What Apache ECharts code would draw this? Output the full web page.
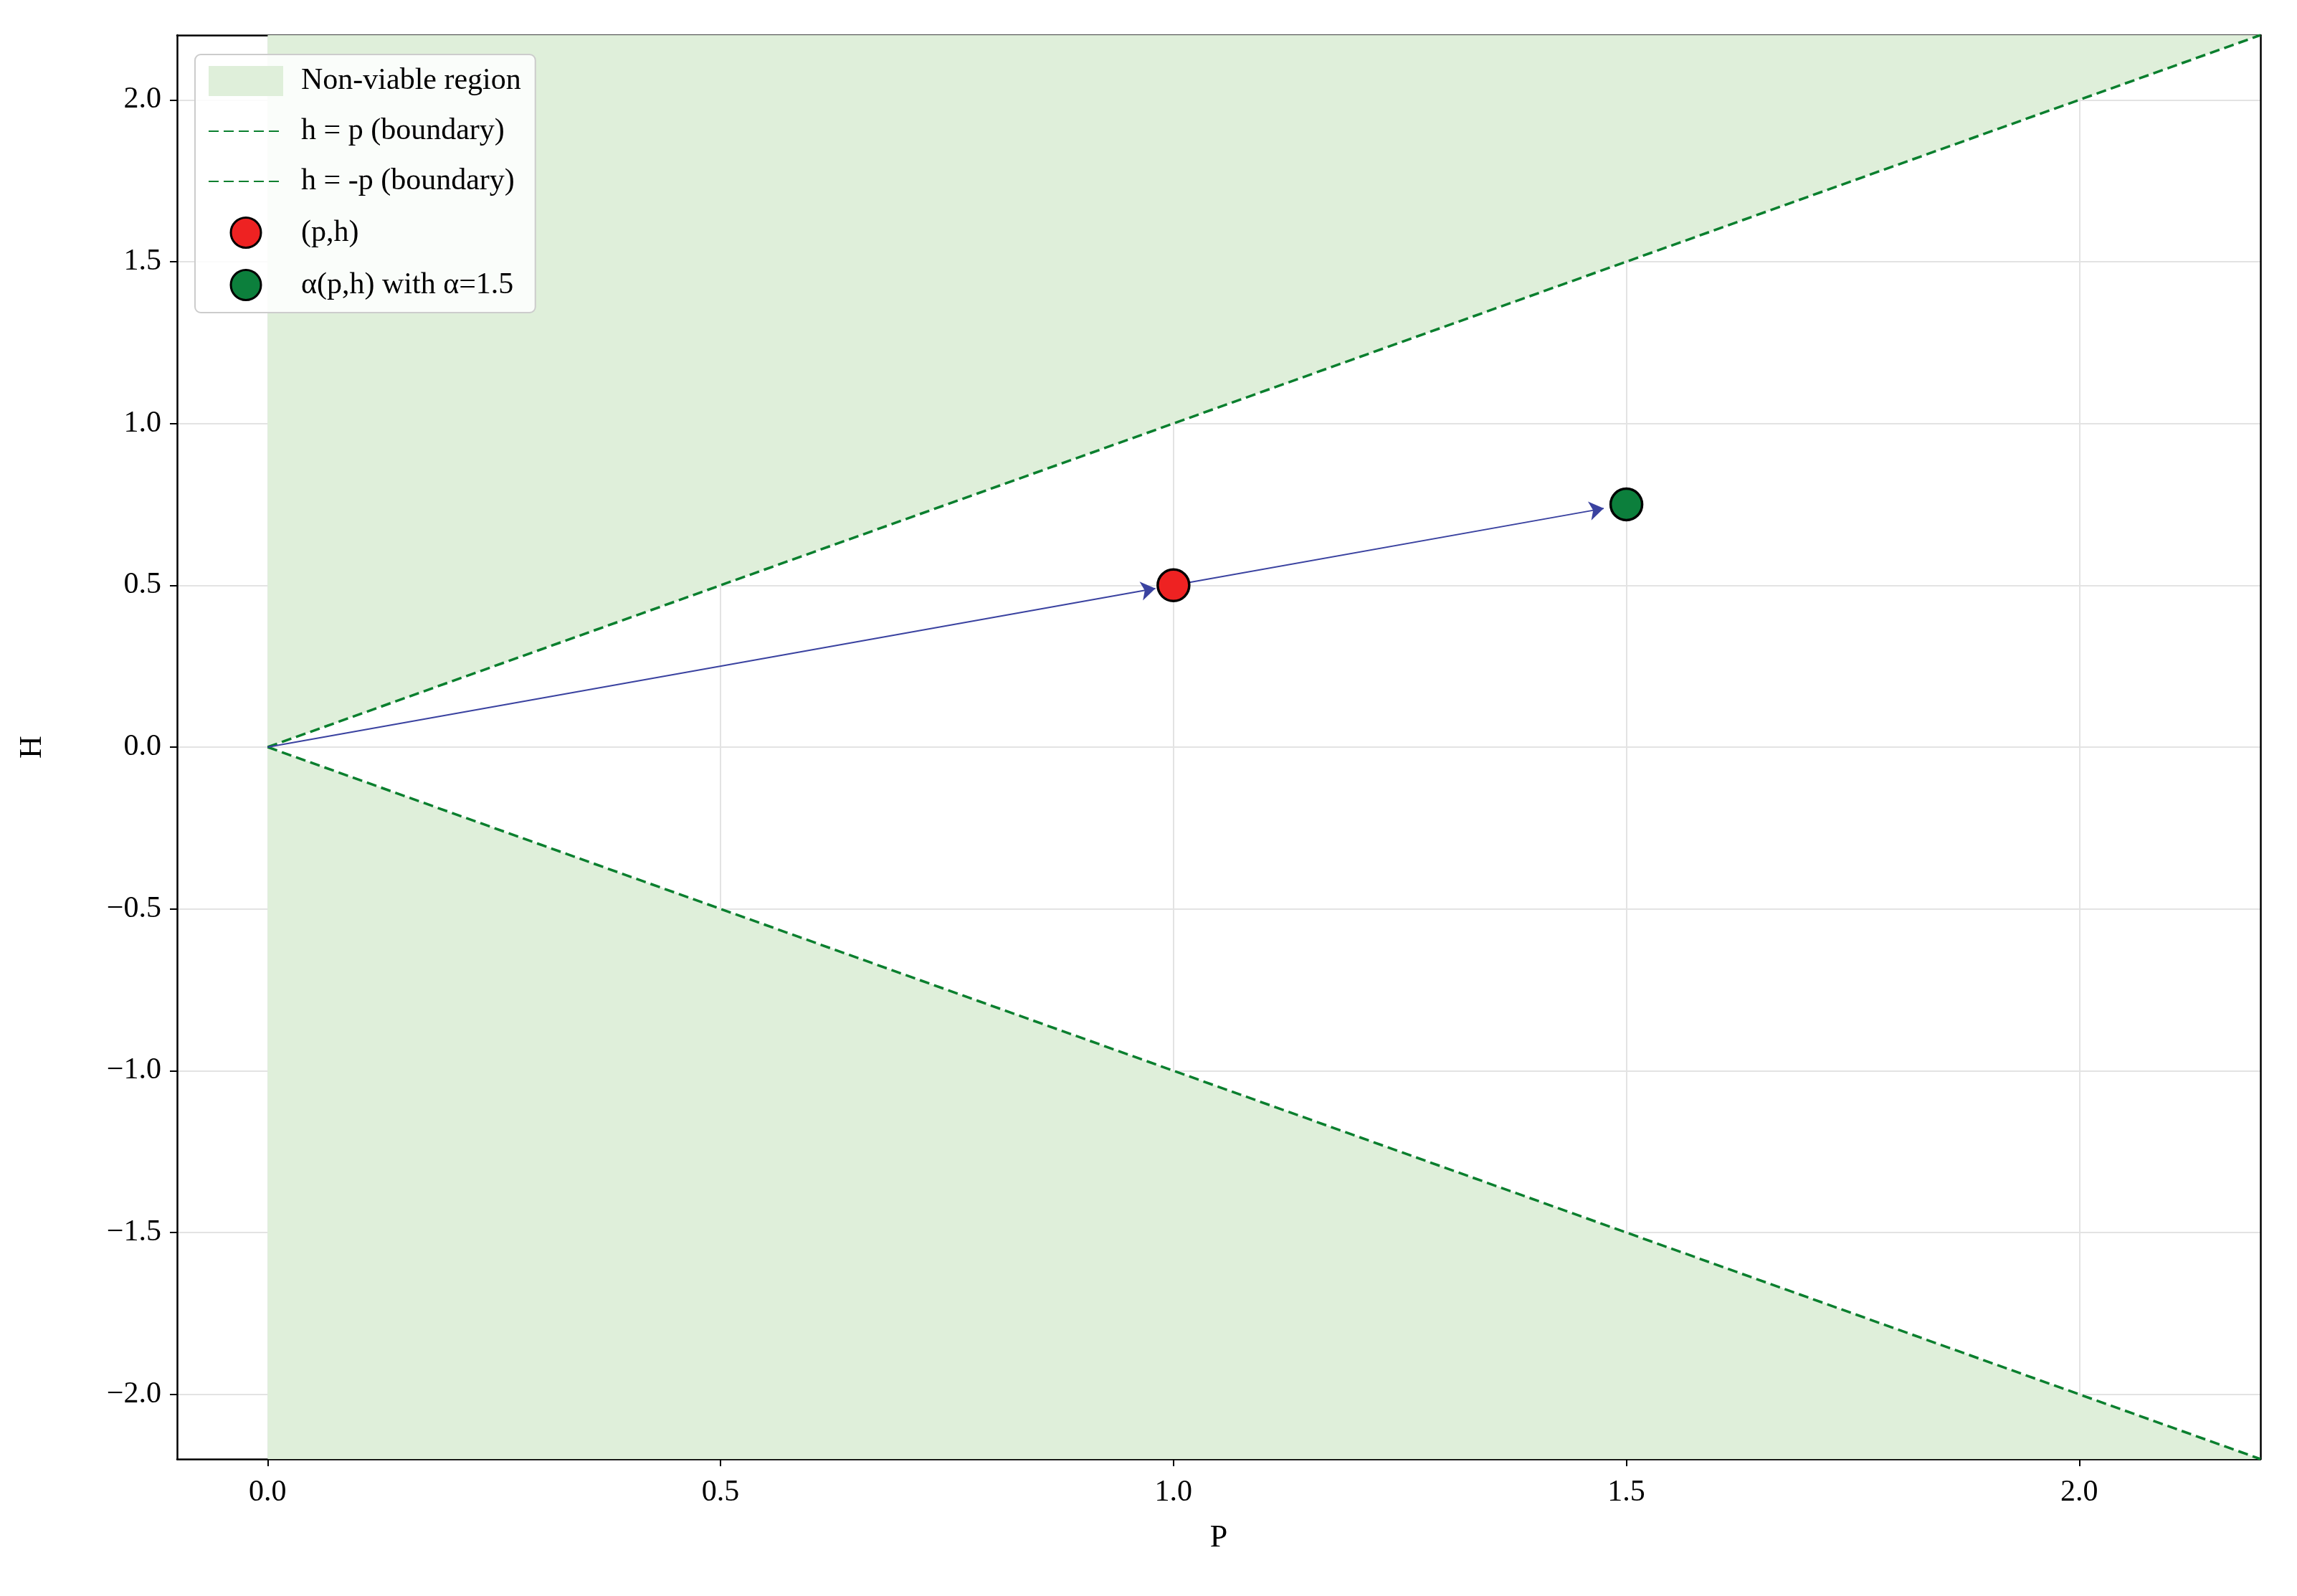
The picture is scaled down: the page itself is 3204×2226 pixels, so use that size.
<!DOCTYPE html>
<html>
<head>
<meta charset="utf-8">
<script src="https://cdn.jsdelivr.net/npm/echarts@6/dist/echarts.min.js"></script>
<style>html,body{margin:0;background:#fff}#chart{width:3204px;height:2226px}</style>
</head>
<body>
<div id="chart"></div>
<script>
// data
const boundaryUpper = [[0, 0], [2.2, 2.2]];
const boundaryLower = [[0, 0], [2.2, -2.2]];
const regionUpper = [[0, 0], [0, 2.2], [2.2, 2.2]];
const regionLower = [[0, 0], [0, -2.2], [2.2, -2.2]];
const pointPH = [[1.0, 0.5]];
const pointScaled = [[1.5, 0.75]];
const arrows = [
    [[0, 0], [0.98, 0.49]],
    [[1.0, 0.5], [1.475, 0.7375]]
];
const xTicks = [0, 0.5, 1, 1.5, 2];
const yTicks = [-2, -1.5, -1, -0.5, 0, 0.5, 1, 1.5, 2];

let dom = document.getElementById('chart');
let myChart = echarts.init(dom, null, { renderer: 'canvas' });

const fmt = v => (v < 0 ? '\u2212' + Math.abs(v).toFixed(1) : v.toFixed(1));
const font = 'Liberation Serif';
const green = '#0a7f2e';
const black = { color: '#000', width: 2.5 };

function polygonSeries(name, pts) {
    return {
        name: name,
        type: 'custom',
        renderItem: (params, api) => ({
            type: 'polygon',
            shape: { points: pts.map(p => api.coord(p)) },
            style: { fill: '#dfefda' }
        }),
        data: [0],
        itemStyle: { color: '#dfefda' },
        z: 1,
        silent: true
    };
}

function frameAxis(extra) {
    return Object.assign({
        type: 'value',
        axisLine: { show: true, onZero: false, lineStyle: black },
        axisTick: { show: false },
        axisLabel: { show: false },
        splitLine: { show: false }
    }, extra);
}

let option = {
    backgroundColor: '#fff',
    animation: false,
    textStyle: { fontFamily: font },
    grid: { left: 247, right: 51, top: 49, bottom: 191 },
    xAxis: [{
        type: 'value', min: -0.1, max: 2.2,
        name: 'P', nameLocation: 'middle', nameGap: 88,
        nameTextStyle: { fontSize: 44, color: '#000', fontFamily: font },
        axisLine: { show: true, onZero: false, lineStyle: black },
        axisTick: { show: true, length: 10, lineStyle: { color: '#000', width: 2 }, customValues: xTicks },
        axisLabel: { fontSize: 42, color: '#000', margin: 26, fontFamily: font, formatter: fmt, customValues: xTicks },
        splitLine: { show: true, lineStyle: { color: '#e3e3e3', width: 2 } }
    }, frameAxis({ position: 'top', min: -0.1, max: 2.2 })],
    yAxis: [{
        type: 'value', min: -2.2, max: 2.2,
        name: 'H', nameLocation: 'middle', nameGap: 180, nameRotate: 90,
        nameTextStyle: { fontSize: 44, color: '#000', fontFamily: font },
        axisLine: { show: true, onZero: false, lineStyle: black },
        axisTick: { show: true, length: 10, lineStyle: { color: '#000', width: 2 }, customValues: yTicks },
        axisLabel: { fontSize: 42, color: '#000', margin: 22, fontFamily: font, formatter: fmt, customValues: yTicks },
        splitLine: { show: true, lineStyle: { color: '#e3e3e3', width: 2 } }
    }, frameAxis({ position: 'right', min: -2.2, max: 2.2 })],
    legend: {
        orient: 'vertical', left: 272, top: 76,
        padding: [16, 20, 16, 18], itemGap: 28,
        itemWidth: 104, itemHeight: 42,
        backgroundColor: 'rgba(255,255,255,0.85)',
        borderColor: '#cccccc', borderWidth: 2, borderRadius: 8,
        textStyle: { fontSize: 42, color: '#000', fontFamily: font, padding: [0, 0, 0, 20] },
        data: [
            { name: 'Non-viable region', icon: 'rect' },
            { name: 'h = p (boundary)', itemStyle: { opacity: 0 } },
            { name: 'h = -p (boundary)', itemStyle: { opacity: 0 } },
            { name: '(p,h)', icon: 'circle', itemStyle: { borderWidth: 3 } },
            { name: '\u03b1(p,h) with \u03b1=1.5', icon: 'circle', itemStyle: { borderWidth: 3 } }
        ]
    },
    series: [
        polygonSeries('Non-viable region', regionUpper),
        polygonSeries('Non-viable region', regionLower),
        {
            name: 'h = p (boundary)', type: 'line', data: boundaryUpper, symbol: 'none', z: 3,
            lineStyle: { color: green, width: 3.5, type: [14, 7] }, itemStyle: { color: green }
        },
        {
            name: 'h = -p (boundary)', type: 'line', data: boundaryLower, symbol: 'none', z: 3,
            lineStyle: { color: green, width: 3.5, type: [14, 7] }, itemStyle: { color: green }
        },
        {
            type: 'lines', coordinateSystem: 'cartesian2d', z: 4,
            data: arrows.map(a => ({ coords: a })),
            symbol: ['none', 'arrow'], symbolSize: [14, 20],
            lineStyle: { color: '#3a42a0', width: 2, opacity: 1 }
        },
        {
            name: '(p,h)', type: 'scatter', data: pointPH, symbolSize: 44, z: 5,
            itemStyle: { color: '#ee2222', borderColor: '#000', borderWidth: 3.5, opacity: 1 }
        },
        {
            name: '\u03b1(p,h) with \u03b1=1.5', type: 'scatter', data: pointScaled, symbolSize: 44, z: 5,
            itemStyle: { color: '#0c7f3c', borderColor: '#000', borderWidth: 3.5, opacity: 1 }
        }
    ]
};
myChart.setOption(option);
</script>
</body>
</html>
